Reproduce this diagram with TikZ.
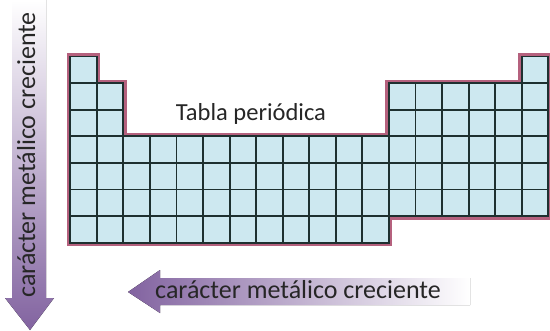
\documentclass[tikz,border=0pt]{standalone}
\usepackage{fontspec}
\setsansfont{Carlito}
\usetikzlibrary{calc}

\definecolor{celda}{HTML}{CDE8F0}
\definecolor{rejilla}{HTML}{1E3030}
\definecolor{borde}{HTML}{B5617E}
\definecolor{lila}{HTML}{8263A0}

\begin{document}
\begin{tikzpicture}[
  x=1pt, y=-1pt,
  font=\sffamily,
  cell/.style  ={draw=rejilla, fill=celda, line width=1.9pt},
  rim/.style   ={draw=borde, line width=7pt, line join=miter},
  tag/.style   ={inner sep=0pt, text=black!85},
  arrowtext/.style={tag, font=\sffamily\fontsize{26}{30}\selectfont}
]

\useasboundingbox (0,0) rectangle (550,330);

% ==================================================
% ARROWS (gradient bodies)
% ==================================================
\fill[top color=white, bottom color=lila]
  (12,0) -- (46,0) -- (46,298) -- (54,298) -- (30,330) -- (5,298) -- (12,298) -- cycle;
\fill[left color=lila, middle color=lila!50, right color=white]
  (128,292) -- (160,270) -- (160,278) -- (470,278) -- (470,305) -- (160,305) -- (160,313) -- cycle;

\node[arrowtext, rotate=90, anchor=base] (vlabel) at (35,155) {carácter metálico creciente};
\node[arrowtext, anchor=base] (hlabel) at (298,298) {carácter metálico creciente};

% ==================================================
% TABLE (cell units)
% ==================================================
\begin{scope}[shift={(70.3,56.5)}, x=26.55pt, y=-26.6pt]
  % outer rim behind the cells
  \draw[rim] (0,0) -| (1,1) -| (2,3) -| (12,1) -| (17,0) -| (18,6) -| (12,7) -- (0,7) -- cycle;

  % row / first col / last col
  \foreach \r/\a/\b in {1/1/1,1/18/18,2/1/2,2/13/18,3/1/2,3/13/18,4/1/18,5/1/18,6/1/18,7/1/12}
    \foreach \c in {\a,...,\b}
      \draw[cell] (\c-1,\r-1) rectangle +(1,1);
\end{scope}

\node[tag, anchor=base, font=\sffamily\fontsize{24.5}{28}\selectfont] (title) at (251,120.5) {Tabla periódica};

\end{tikzpicture}
\end{document}
